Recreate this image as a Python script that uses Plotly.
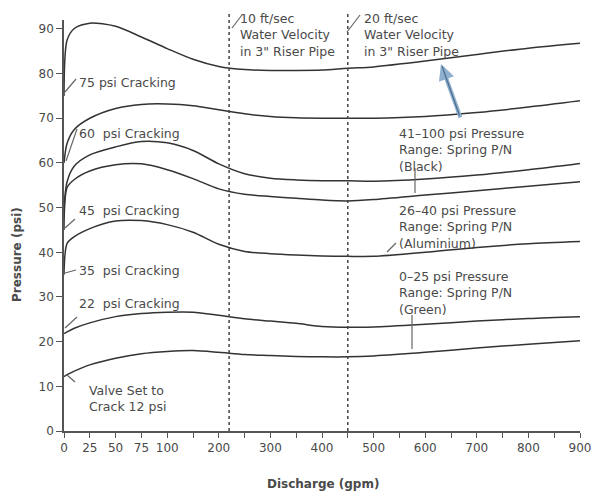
import plotly.graph_objects as go

# ---------------- data ----------------
gpm = [0, 3, 10, 25, 50, 75, 100, 150, 200, 250, 300, 350, 400, 450, 500, 600, 700, 800, 900]

p75 = [75, 87.5, 90.1, 91.3, 90.6, 88.2, 85.6, 83.2, 81.6, 80.9, 80.7, 80.7, 80.8, 81.2, 81.5, 82.8, 84.3, 85.7, 86.8]
p60 = [60, 64.4, 67.5, 70.0, 72.2, 73.1, 73.2, 72.8, 71.9, 71.0, 70.4, 70.1, 70.0, 70.0, 70.0, 70.4, 71.3, 72.5, 73.9]
p50 = [50, 55.8, 59.3, 61.8, 63.6, 64.8, 64.5, 62.8, 59.8, 57.6, 56.6, 56.2, 56.0, 56.0, 55.9, 56.4, 57.3, 58.5, 59.9]
p45 = [45, 54.5, 56.3, 58.2, 59.6, 59.8, 58.5, 56.5, 54.2, 53.0, 52.5, 52.1, 51.7, 51.5, 51.8, 52.8, 53.8, 54.8, 55.8]
p35 = [35, 42.0, 43.5, 45.3, 47.0, 47.1, 46.2, 44.5, 41.8, 40.2, 39.7, 39.4, 39.2, 39.1, 39.1, 40.0, 41.1, 41.9, 42.4]
p22 = [21.8, 22.2, 23.0, 24.2, 25.6, 26.3, 26.6, 26.6, 25.9, 25.1, 24.6, 24.1, 23.4, 23.2, 23.3, 23.9, 24.6, 25.2, 25.6]
p12 = [12.2, 12.6, 13.4, 14.8, 16.3, 17.3, 17.8, 18.0, 17.6, 17.1, 16.9, 16.7, 16.6, 16.6, 16.8, 17.6, 18.6, 19.4, 20.2]

velocity_gpm = [220, 450]

tick_gpm = [0, 25, 50, 75, 100, 150, 200, 250, 300, 350, 400, 450, 500, 550, 600, 650, 700, 750, 800, 850, 900]
tick_text = ["0", "25", "50", "75", "100", "", "200", "", "300", "", "400", "", "500", "", "600", "", "700", "", "800", "", "900"]
y_ticks = [0, 10, 20, 30, 40, 50, 60, 70, 80, 90]


# piecewise discharge scale: 0-100 gpm expanded, 100-900 compressed
def to_u(g):
    return g / 25.0 if g <= 100 else 4 + (g - 100) / 50.0


xu = [to_u(g) for g in gpm]

# ---------------- layout helpers (window pixel -> paper) ----------------
PL, PT, PW, PH = 64, 20, 516, 411
FW, FH = 592, 494


def px(x):
    return (x - PL) / PW


def py(y):
    return (PT + PH - y) / PH


LINE = "#333333"
TXT = "#4a4a4a"
FONT = "DejaVu Sans"

fig = go.Figure()
for series in [p75, p60, p50, p45, p35, p22, p12]:
    fig.add_trace(go.Scatter(x=xu, y=series, mode="lines", line=dict(color=LINE, width=1.5, shape="spline", smoothing=0.8),
                             showlegend=False, hoverinfo="skip"))

shapes = []
for g in velocity_gpm:
    shapes.append(dict(type="line", xref="x", yref="paper", x0=to_u(g), x1=to_u(g), y0=0, y1=1.015,
                       line=dict(color="#444", width=1.5, dash="dot")))

leaders = [
    ((65, 92), (76, 79)),
    ((66, 161), (77, 129)),
    ((65, 228), (75, 219)),
    ((65, 273), (76, 270)),
    ((65, 328), (77, 317)),
    ((67, 375), (75, 382)),
    ((232, 28), (242, 15)),
    ((347, 32), (360, 15)),
    ((415, 168), (415, 193)),
    ((387, 252), (396, 243)),
    ((412, 315), (412, 349)),
]
for (x0, y0), (x1, y1) in leaders:
    shapes.append(dict(type="line", xref="paper", yref="paper", x0=px(x0), y0=py(y0), x1=px(x1), y1=py(y1),
                       line=dict(color="#666", width=1.2)))

annotations = []


def label(text, x, y):
    annotations.append(dict(text=text, xref="paper", yref="paper", x=px(x), y=py(y), xanchor="left", yanchor="middle",
                            showarrow=False, align="left", font=dict(family=FONT, size=12.5, color=TXT)))


label("75 psi Cracking", 77, 82)
label("60&nbsp; psi Cracking", 77, 133)
label("45&nbsp; psi Cracking", 77, 210)
label("35&nbsp; psi Cracking", 77, 270)
label("22&nbsp; psi Cracking", 77, 303)
label("Valve Set to<br>Crack 12 psi", 87, 398)
label("10 ft/sec<br>Water Velocity<br>in 3\" Riser Pipe", 238, 35)
label("20 ft/sec<br>Water Velocity<br>in 3\" Riser Pipe", 362, 35)
label("41\u2013100 psi Pressure<br>Range: Spring P/N<br>(Black)", 397, 150)
label("26\u201340 psi Pressure<br>Range: Spring P/N<br>(Aluminium)", 397, 227)
label("0\u201325 psi Pressure<br>Range: Spring P/N<br>(Green)", 397, 293)

# blue arrow between top two curves
annotations.append(dict(xref="paper", yref="paper", x=px(441), y=py(64), ax=461 - 441, ay=119 - 64, text="",
                        showarrow=True, arrowhead=2, arrowsize=0.8, arrowwidth=4, arrowcolor="#8fb0cf"))
annotations.append(dict(xref="paper", yref="paper", x=px(442), y=py(66), ax=460 - 442, ay=117 - 66, text="",
                        showarrow=True, arrowhead=0, arrowwidth=1.2, arrowcolor="#4d6c8c"))

# axis titles
annotations.append(dict(text="<b>Discharge (gpm)</b>", xref="paper", yref="paper", x=px(323), y=py(484),
                        showarrow=False, xanchor="center", yanchor="middle", font=dict(family=FONT, size=12, color=TXT)))
annotations.append(dict(text="<b>Pressure (psi)</b>", xref="paper", yref="paper", x=px(17), y=py(255), textangle=-90,
                        showarrow=False, xanchor="center", yanchor="middle", font=dict(family=FONT, size=12, color=TXT)))

fig.update_layout(
    width=FW, height=FH,
    margin=dict(l=PL, r=FW - PL - PW, t=PT, b=FH - PT - PH, autoexpand=False),
    plot_bgcolor="white", paper_bgcolor="white",
    shapes=shapes, annotations=annotations,
    xaxis=dict(range=[0, 20], tickvals=[to_u(g) for g in tick_gpm], ticktext=tick_text, ticklabeloverflow="allow",
               showline=True, linecolor="#555", linewidth=1.5, ticks="outside", ticklen=5, tickcolor="#555",
               tickwidth=1.2, showgrid=False, zeroline=False, tickfont=dict(family=FONT, size=12, color=TXT)),
    yaxis=dict(range=[0, 92], tickvals=y_ticks, showline=True, linecolor="#555", linewidth=1.5,
               ticks="outside", ticklen=6, tickcolor="#555", tickwidth=1.2, showgrid=False, zeroline=False,
               tickfont=dict(family=FONT, size=12, color=TXT)),
)

fig.write_html("out.html", config={"displayModeBar": False},
               post_script="document.body.style.margin='0';document.body.style.overflow='hidden';")
